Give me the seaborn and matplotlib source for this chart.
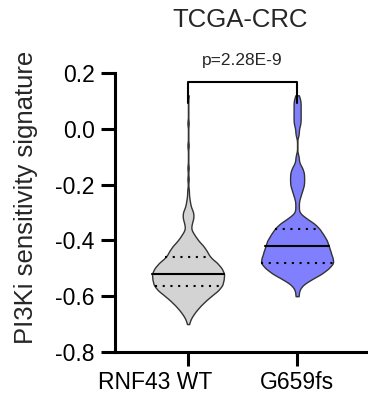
import numpy as np
import pandas as pd
import matplotlib
matplotlib.use("Agg")
import matplotlib.pyplot as plt
import matplotlib.transforms as mtransforms
import seaborn as sns

sns.set_style("ticks")
plt.rcParams['font.family'] = ['Liberation Sans', 'DejaVu Sans']

groups = ["RNF43 WT", "G659fs"]
colors = ["#D3D3D3", "#8080FF"]

# PI3Ki signature scores, binned (score, number of tumours)
wt_values = [-0.70, -0.68, -0.66, -0.64, -0.62, -0.60, -0.58, -0.56, -0.54, -0.52,
             -0.50, -0.48, -0.46, -0.44, -0.42, -0.40, -0.38, -0.36, -0.34, -0.32,
             -0.30, -0.28, -0.26, -0.24, -0.22, -0.18, -0.14, -0.06, 0.02, 0.12]
wt_counts = [1, 3, 7, 12, 18, 25, 33, 38, 39, 40,
             37, 32, 24, 21, 17, 11, 7, 3, 4, 6,
             6, 3, 2, 1, 1, 1, 1, 1, 1, 1]

mut_values = [0.12, 0.10, 0.08, 0.06, 0.04, 0.02, 0.00, -0.02,
              -0.10, -0.12, -0.14, -0.16, -0.18, -0.20, -0.22, -0.24, -0.26, -0.28, -0.30,
              -0.32, -0.34, -0.36, -0.38, -0.40, -0.42, -0.44, -0.46, -0.48, -0.50,
              -0.52, -0.54, -0.56, -0.58, -0.60]
mut_counts = [1, 2, 2, 2, 2, 2, 1, 1,
              1, 1, 3, 4, 4, 4, 3, 2, 1, 1, 1,
              5, 10, 13, 15, 17, 18, 19, 20, 21, 18,
              14, 8, 3, 1, 1]

yticks = [-0.8, -0.6, -0.4, -0.2, 0.0, 0.2]
p_label = "p=2.28E-9"
title = "TCGA-CRC"

df = pd.DataFrame({
    "group": np.repeat(groups, [sum(wt_counts), sum(mut_counts)]),
    "score": np.concatenate([np.repeat(wt_values, wt_counts),
                             np.repeat(mut_values, mut_counts)]),
})


def fixed_bw(kde):
    # same absolute bandwidth for both groups
    return 0.012 / kde.dataset.std(ddof=1)


fig = plt.figure(figsize=(3.68, 4.08), dpi=100)
ax = fig.add_axes([115 / 368, 56 / 408, 253 / 368, 279 / 408])

sns.violinplot(data=df, x="group", y="score", hue="group", order=groups, hue_order=groups,
               palette=dict(zip(groups, colors)), saturation=1, inner="quart", cut=0,
               density_norm="width", width=0.66, linewidth=1, linecolor="#333333",
               bw_method=fixed_bw, gridsize=400, legend=False, ax=ax)

# median solid, quartiles dotted
for i, line in enumerate(ax.lines):
    line.set_color("black")
    line.set_linewidth(1.5)
    line.set_linestyle("-" if i % 3 == 1 else (0, (1, 2.7)))

# significance bracket
ax.plot([0, 0, 1, 1], [0.092, 0.168, 0.168, 0.092], color="black", lw=1.5, clip_on=False)
ax.text(0.5, 0.229, p_label, ha="center", va="baseline", fontsize=12.5)
ax.text(0.477, 0.365, title, ha="center", va="baseline", fontsize=18.5)

ax.set_xlim(-0.67, 1.65)
ax.set_ylim(-0.8, 0.2)
ax.set_yticks(yticks)
ax.set_yticklabels([f"{t:.1f}" for t in yticks])
ax.set_xlabel("")
ax.set_ylabel("PI3Ki sensitivity signature", fontsize=18.5)
ax.yaxis.set_label_coords(-0.304, 0.556)

sns.despine(ax=ax)
for s in ["left", "bottom"]:
    ax.spines[s].set_linewidth(2.2)
    ax.spines[s].set_color("black")
ax.tick_params(axis="both", length=10, width=2.2, color="black", labelsize=16.5, labelcolor="black")
ax.tick_params(axis="y", pad=4.5)
ax.tick_params(axis="x", pad=3.6)

# the long WT label sits left of its tick, as in the original
lbl = ax.get_xticklabels()[0]
lbl.set_transform(lbl.get_transform() + mtransforms.ScaledTranslation(-0.33, 0, fig.dpi_scale_trans))

fig.savefig("out.png", dpi=100)
